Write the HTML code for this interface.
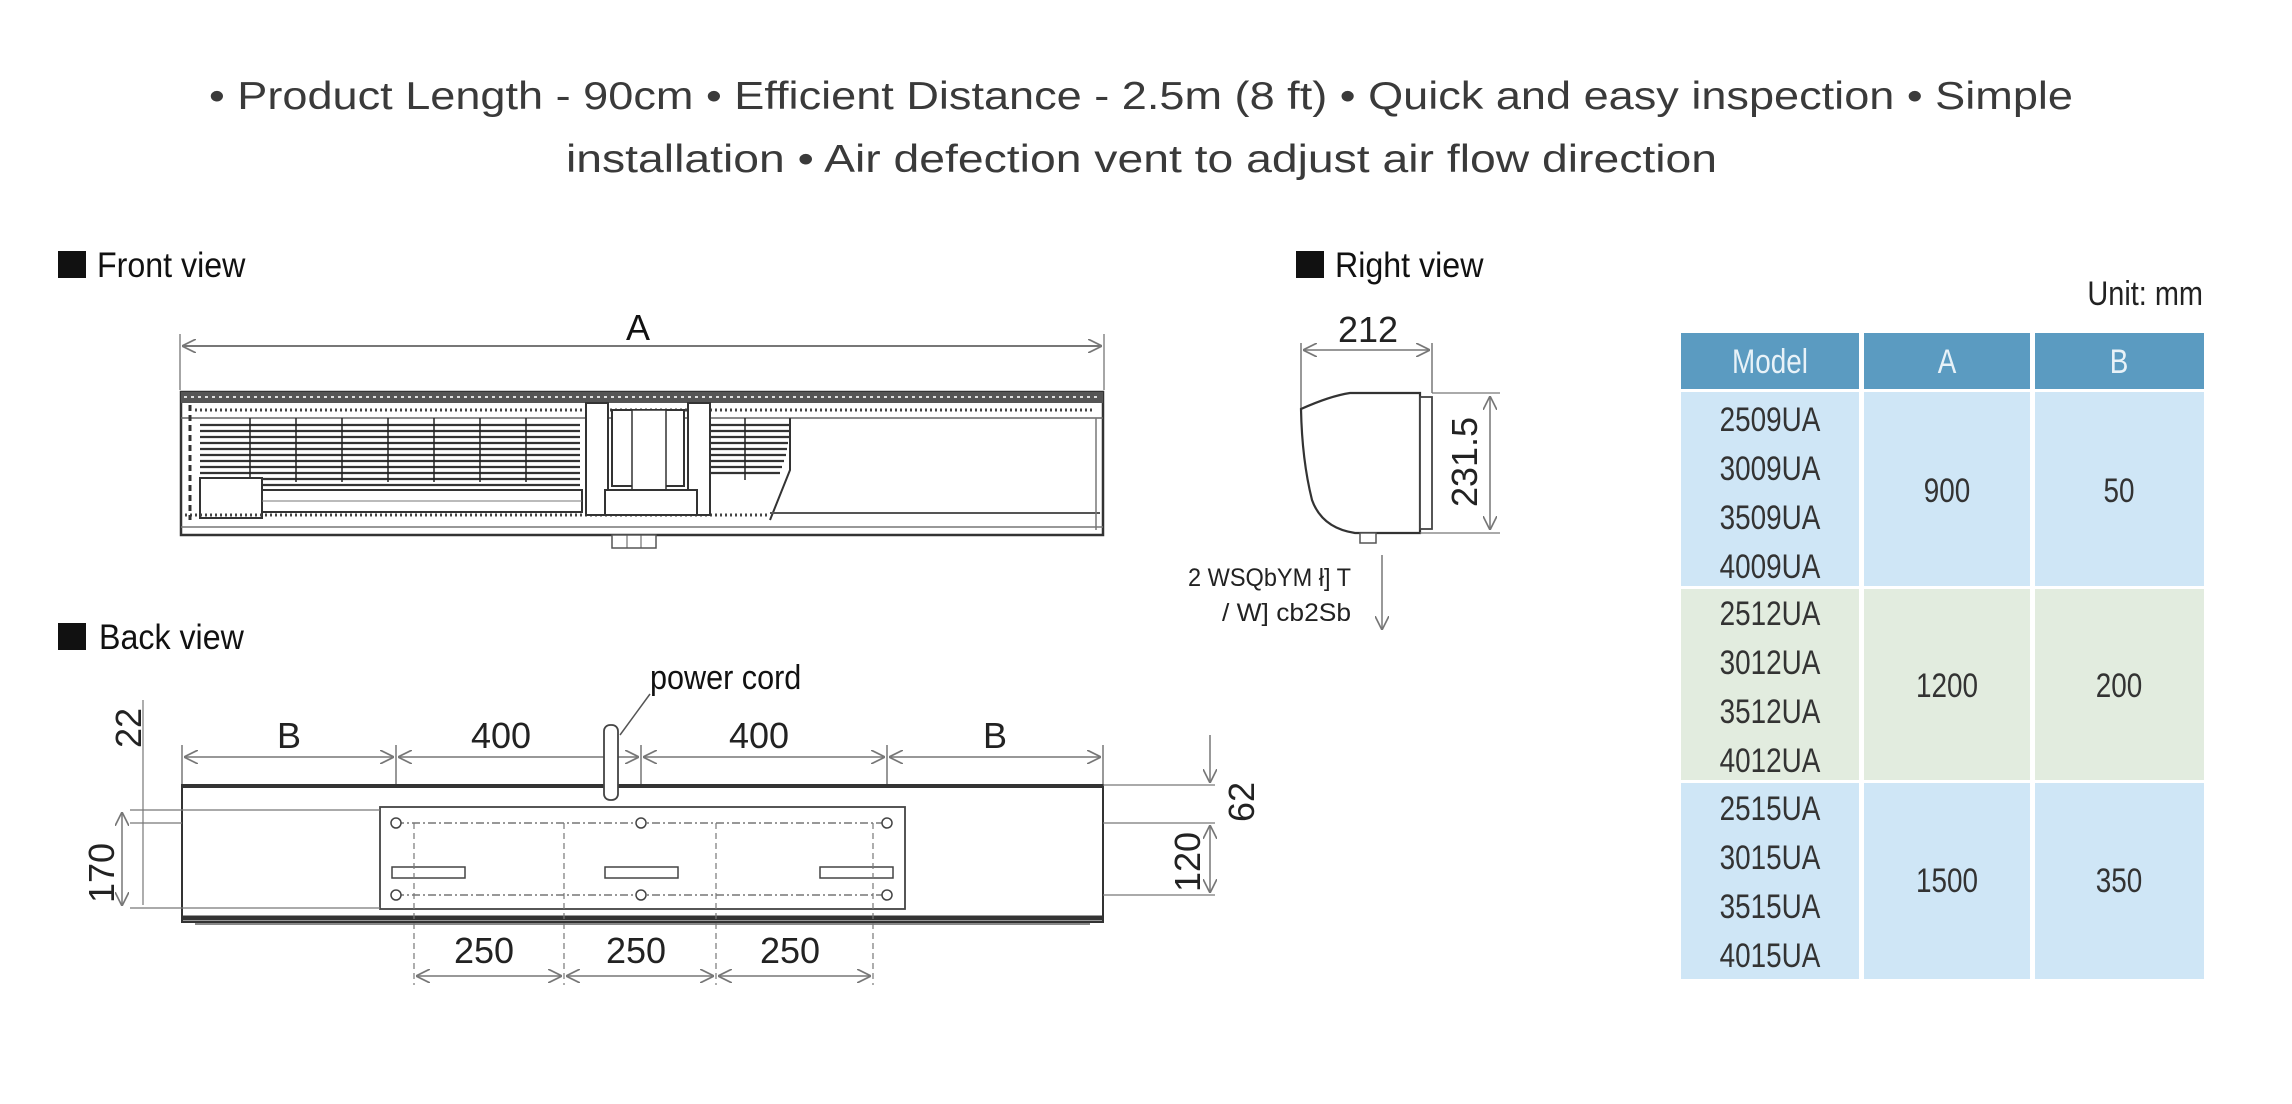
<!DOCTYPE html>
<html><head><meta charset="utf-8">
<style>
html,body{margin:0;padding:0;background:#fff;width:2292px;height:1104px;overflow:hidden}
svg{display:block}
.t{font-family:"Liberation Sans",sans-serif;fill:#111}
.n{font-family:"Liberation Sans",sans-serif;fill:#222}
</style></head><body>
<svg width="2292" height="1104" viewBox="0 0 2292 1104" xmlns="http://www.w3.org/2000/svg">
<defs>
<marker id="ar" viewBox="0 0 10 10" refX="10" refY="5" markerWidth="14" markerHeight="14" orient="auto-start-reverse" markerUnits="userSpaceOnUse"><path d="M0,0 L10,5 L0,10" fill="none" stroke="#777" stroke-width="1.2"/></marker>
</defs>
<!-- title -->
<text x="209" y="109" textLength="1864" lengthAdjust="spacingAndGlyphs" font-family="Liberation Sans,sans-serif" font-size="39" fill="#3a3a3a">• Product Length - 90cm • Efficient Distance - 2.5m (8 ft) • Quick and easy inspection • Simple</text>
<text x="566" y="172" textLength="1151" lengthAdjust="spacingAndGlyphs" font-family="Liberation Sans,sans-serif" font-size="39" fill="#3a3a3a">installation • Air defection vent to adjust air flow direction</text>

<!-- headers -->
<rect x="58" y="251" width="28" height="27" fill="#111"/>
<text x="97" y="277" class="t" font-size="35" transform="translate(97 0) scale(0.92 1) translate(-97 0)">Front view</text>
<rect x="1296" y="251" width="28" height="27" fill="#111"/>
<text x="1335" y="277" class="t" font-size="35" transform="translate(1335 0) scale(0.92 1) translate(-1335 0)">Right view</text>
<rect x="58" y="623" width="28" height="27" fill="#111"/>
<text x="99" y="649" class="t" font-size="35" transform="translate(99 0) scale(0.92 1) translate(-99 0)">Back view</text>

<!-- FRONT VIEW -->
<text x="638" y="340" class="t" font-size="36" text-anchor="middle">A</text>
<line x1="180" y1="334" x2="180" y2="390" stroke="#888" stroke-width="1.5"/>
<line x1="1104" y1="334" x2="1104" y2="390" stroke="#888" stroke-width="1.5"/>
<line x1="182" y1="346" x2="1102" y2="346" stroke="#777" stroke-width="2" marker-start="url(#ar)" marker-end="url(#ar)"/>
<rect x="181" y="392" width="922" height="143" fill="#fff" stroke="#333" stroke-width="2.5"/>
<rect x="181" y="392" width="922" height="11" fill="#555"/>
<line x1="184" y1="397" x2="1100" y2="397" stroke="#ddd" stroke-width="2" stroke-dasharray="3 4"/>
<line x1="195" y1="410" x2="1095" y2="410" stroke="#444" stroke-width="3" stroke-dasharray="2 3"/>
<line x1="181" y1="418" x2="1103" y2="418" stroke="#666" stroke-width="1.5"/>
<g stroke="#333" stroke-width="2.2">
<line x1="200" y1="425" x2="580" y2="425"/><line x1="200" y1="431" x2="580" y2="431"/><line x1="200" y1="437" x2="580" y2="437"/>
<line x1="200" y1="443" x2="580" y2="443"/><line x1="200" y1="449" x2="580" y2="449"/><line x1="200" y1="455" x2="580" y2="455"/>
<line x1="200" y1="461" x2="580" y2="461"/><line x1="200" y1="467" x2="580" y2="467"/><line x1="200" y1="473" x2="580" y2="473"/>
<line x1="262" y1="479" x2="580" y2="479"/><line x1="262" y1="485" x2="580" y2="485"/>
</g>
<g stroke="#222" stroke-width="1.5">
<line x1="250" y1="418" x2="250" y2="482"/><line x1="296" y1="418" x2="296" y2="482"/><line x1="342" y1="418" x2="342" y2="482"/><line x1="388" y1="418" x2="388" y2="482"/><line x1="434" y1="418" x2="434" y2="482"/><line x1="480" y1="418" x2="480" y2="482"/><line x1="526" y1="418" x2="526" y2="482"/>
</g>
<rect x="200" y="478" width="62" height="40" fill="#fff" stroke="#333" stroke-width="2"/>
<rect x="262" y="490" width="320" height="22" fill="#fff" stroke="#333" stroke-width="2"/>
<line x1="262" y1="501" x2="582" y2="501" stroke="#777" stroke-width="1"/>
<line x1="185" y1="515" x2="770" y2="515" stroke="#444" stroke-width="3" stroke-dasharray="2 3"/>
<line x1="190" y1="405" x2="190" y2="520" stroke="#333" stroke-width="3" stroke-dasharray="6 4"/>
<rect x="586" y="403" width="22" height="112" fill="#fff" stroke="#333" stroke-width="2"/>
<rect x="688" y="403" width="22" height="112" fill="#fff" stroke="#333" stroke-width="2"/>
<rect x="612" y="410" width="72" height="76" fill="#fff" stroke="#333" stroke-width="2"/>
<rect x="632" y="410" width="34" height="88" fill="#fff" stroke="#333" stroke-width="1.5"/>
<rect x="605" y="490" width="92" height="25" fill="#fff" stroke="#333" stroke-width="2"/>
<g stroke="#333" stroke-width="2.2">
<line x1="710" y1="425" x2="790" y2="425"/><line x1="710" y1="431" x2="790" y2="431"/><line x1="710" y1="437" x2="789" y2="437"/>
<line x1="710" y1="443" x2="788" y2="443"/><line x1="710" y1="449" x2="787" y2="449"/><line x1="710" y1="455" x2="786" y2="455"/>
<line x1="710" y1="461" x2="784" y2="461"/><line x1="710" y1="467" x2="782" y2="467"/><line x1="710" y1="473" x2="780" y2="473"/>
</g>
<line x1="745" y1="418" x2="745" y2="480" stroke="#222" stroke-width="1.5"/>
<path d="M790,418 L790,470 L770,520" fill="none" stroke="#333" stroke-width="2"/>
<line x1="770" y1="513" x2="1100" y2="513" stroke="#555" stroke-width="2"/>
<line x1="1096" y1="418" x2="1096" y2="530" stroke="#777" stroke-width="1.5"/>
<line x1="181" y1="527" x2="1103" y2="527" stroke="#777" stroke-width="1.5"/>
<rect x="612" y="535" width="44" height="13" fill="#fff" stroke="#555" stroke-width="1.5"/>
<line x1="627" y1="535" x2="627" y2="548" stroke="#555"/><line x1="641" y1="535" x2="641" y2="548" stroke="#555"/>

<!-- RIGHT VIEW -->
<text x="1368" y="342" class="n" font-size="36" text-anchor="middle">212</text>
<line x1="1301" y1="343" x2="1301" y2="410" stroke="#777" stroke-width="1.5"/>
<line x1="1432" y1="343" x2="1432" y2="393" stroke="#777" stroke-width="1.5"/>
<line x1="1303" y1="350" x2="1430" y2="350" stroke="#777" stroke-width="1.5" marker-start="url(#ar)" marker-end="url(#ar)"/>
<path d="M1301,409 Q1330,396 1350,393 L1420,393 L1420,533 L1355,533 Q1322,528 1312,500 Q1302,460 1301,409 Z" fill="#fff" stroke="#333" stroke-width="2.2"/>
<rect x="1420" y="397" width="12" height="132" fill="#fff" stroke="#444" stroke-width="1.8"/>
<rect x="1360" y="533" width="16" height="10" fill="#fff" stroke="#555" stroke-width="1.5"/>
<line x1="1432" y1="393" x2="1500" y2="393" stroke="#777" stroke-width="1.2"/>
<line x1="1420" y1="533" x2="1500" y2="533" stroke="#777" stroke-width="1.2"/>
<line x1="1490" y1="396" x2="1490" y2="530" stroke="#777" stroke-width="1.5" marker-start="url(#ar)" marker-end="url(#ar)"/>
<text class="n" font-size="36" text-anchor="middle" transform="translate(1477 462) rotate(-90)">231.5</text>
<text x="1351" y="586" class="n" font-size="25" text-anchor="end" textLength="163" lengthAdjust="spacingAndGlyphs">2 WSQbYM ł] T</text>
<text x="1351" y="621" class="n" font-size="25" text-anchor="end" textLength="129" lengthAdjust="spacingAndGlyphs">/ W] cb2Sb</text>
<line x1="1382" y1="555" x2="1382" y2="630" stroke="#777" stroke-width="1.5" marker-end="url(#ar)"/>

<!-- BACK VIEW -->
<text x="650" y="689" class="t" font-size="34" transform="translate(650 0) scale(0.9 1) translate(-650 0)">power cord</text>
<line x1="650" y1="694" x2="620" y2="735" stroke="#555" stroke-width="1.5"/>
<text x="289" y="748" class="n" font-size="36" text-anchor="middle">B</text>
<text x="501" y="748" class="n" font-size="36" text-anchor="middle">400</text>
<text x="759" y="748" class="n" font-size="36" text-anchor="middle">400</text>
<text x="995" y="748" class="n" font-size="36" text-anchor="middle">B</text>
<g stroke="#777" stroke-width="1.5">
<line x1="182" y1="745" x2="182" y2="790"/><line x1="396" y1="745" x2="396" y2="900"/><line x1="641" y1="745" x2="641" y2="900"/><line x1="887" y1="745" x2="887" y2="900"/><line x1="1103" y1="745" x2="1103" y2="790"/>
</g>
<g stroke="#777" stroke-width="1.5" marker-start="url(#ar)" marker-end="url(#ar)">
<line x1="184" y1="757" x2="394" y2="757"/><line x1="398" y1="757" x2="639" y2="757"/><line x1="643" y1="757" x2="885" y2="757"/><line x1="889" y1="757" x2="1101" y2="757"/>
</g>
<rect x="182" y="785" width="921" height="137" fill="#fff" stroke="#333" stroke-width="2"/>
<line x1="182" y1="786" x2="1103" y2="786" stroke="#333" stroke-width="4"/>
<line x1="182" y1="918" x2="1103" y2="918" stroke="#333" stroke-width="5"/>
<line x1="195" y1="924" x2="1090" y2="924" stroke="#888" stroke-width="2"/>
<rect x="604" y="725" width="14" height="75" rx="6" fill="#fff" stroke="#444" stroke-width="1.8"/>
<rect x="380" y="807" width="525" height="102" fill="#fff" stroke="#444" stroke-width="1.8"/>
<line x1="396" y1="823" x2="887" y2="823" stroke="#777" stroke-width="1.5" stroke-dasharray="8 3 2 3"/>
<line x1="396" y1="895" x2="887" y2="895" stroke="#777" stroke-width="1.5" stroke-dasharray="8 3 2 3"/>
<line x1="130" y1="810" x2="380" y2="810" stroke="#777" stroke-width="1.2"/>
<line x1="130" y1="908" x2="380" y2="908" stroke="#777" stroke-width="1.2"/>
<line x1="130" y1="823" x2="182" y2="823" stroke="#777" stroke-width="1.2"/>
<line x1="1103" y1="785" x2="1215" y2="785" stroke="#777" stroke-width="1.2"/>
<line x1="1103" y1="823" x2="1215" y2="823" stroke="#777" stroke-width="1.2"/>
<line x1="1103" y1="895" x2="1215" y2="895" stroke="#777" stroke-width="1.2"/>
<g fill="#fff" stroke="#444" stroke-width="1.5">
<circle cx="396" cy="823" r="5"/><circle cx="641" cy="823" r="5"/><circle cx="887" cy="823" r="5"/>
<circle cx="396" cy="895" r="5"/><circle cx="641" cy="895" r="5"/><circle cx="887" cy="895" r="5"/>
<rect x="392" y="867" width="73" height="11"/><rect x="605" y="867" width="73" height="11"/><rect x="820" y="867" width="73" height="11"/>
</g>
<g stroke="#777" stroke-width="1.2" stroke-dasharray="6 4">
<line x1="414" y1="823" x2="414" y2="985"/><line x1="564" y1="823" x2="564" y2="985"/><line x1="716" y1="823" x2="716" y2="985"/><line x1="873" y1="823" x2="873" y2="985"/>
</g>
<text x="484" y="963" class="n" font-size="36" text-anchor="middle">250</text>
<text x="636" y="963" class="n" font-size="36" text-anchor="middle">250</text>
<text x="790" y="963" class="n" font-size="36" text-anchor="middle">250</text>
<g stroke="#777" stroke-width="1.5" marker-start="url(#ar)" marker-end="url(#ar)">
<line x1="416" y1="976" x2="562" y2="976"/><line x1="566" y1="976" x2="714" y2="976"/><line x1="718" y1="976" x2="871" y2="976"/>
</g>
<line x1="143" y1="700" x2="143" y2="905" stroke="#777" stroke-width="1.2"/>
<line x1="122" y1="812" x2="122" y2="906" stroke="#777" stroke-width="1.5" marker-start="url(#ar)" marker-end="url(#ar)"/>
<text class="n" font-size="36" text-anchor="middle" transform="translate(141 728) rotate(-90)">22</text>
<text class="n" font-size="36" text-anchor="middle" transform="translate(114 873) rotate(-90)">170</text>
<line x1="1210" y1="735" x2="1210" y2="783" stroke="#777" stroke-width="1.5" marker-end="url(#ar)"/>
<line x1="1210" y1="825" x2="1210" y2="893" stroke="#777" stroke-width="1.5" marker-start="url(#ar)" marker-end="url(#ar)"/>
<text class="n" font-size="36" text-anchor="middle" transform="translate(1254 802) rotate(-90)">62</text>
<text class="n" font-size="36" text-anchor="middle" transform="translate(1200 862) rotate(-90)">120</text>

<!-- TABLE -->
<text x="2203" y="305" class="n" font-size="34" text-anchor="end" transform="translate(2203 0) scale(0.85 1) translate(-2203 0)">Unit: mm</text>
<rect x="1681" y="333" width="178" height="56" fill="#5b9bc1"/>
<rect x="1864" y="333" width="166" height="56" fill="#5b9bc1"/>
<rect x="2035" y="333" width="169" height="56" fill="#5b9bc1"/>
<rect x="1681" y="392" width="178" height="194" fill="#cfe6f6"/>
<rect x="1864" y="392" width="166" height="194" fill="#cfe6f6"/>
<rect x="2035" y="392" width="169" height="194" fill="#cfe6f6"/>
<rect x="1681" y="589" width="178" height="191" fill="#e2ecdf"/>
<rect x="1864" y="589" width="166" height="191" fill="#e2ecdf"/>
<rect x="2035" y="589" width="169" height="191" fill="#e2ecdf"/>
<rect x="1681" y="783" width="178" height="196" fill="#cfe6f6"/>
<rect x="1864" y="783" width="166" height="196" fill="#cfe6f6"/>
<rect x="2035" y="783" width="169" height="196" fill="#cfe6f6"/>
<g font-family="Liberation Sans,sans-serif" font-size="34" text-anchor="middle">
<g fill="#e8f2f8">
<text transform="translate(1770 373) scale(0.82 1)">Model</text>
<text transform="translate(1947 373) scale(0.82 1)">A</text>
<text transform="translate(2119 373) scale(0.82 1)">B</text>
</g>
<g fill="#333">
<text transform="translate(1770 431) scale(0.82 1)">2509UA</text>
<text transform="translate(1770 480) scale(0.82 1)">3009UA</text>
<text transform="translate(1770 529) scale(0.82 1)">3509UA</text>
<text transform="translate(1770 578) scale(0.82 1)">4009UA</text>
<text transform="translate(1770 625) scale(0.82 1)">2512UA</text>
<text transform="translate(1770 674) scale(0.82 1)">3012UA</text>
<text transform="translate(1770 723) scale(0.82 1)">3512UA</text>
<text transform="translate(1770 772) scale(0.82 1)">4012UA</text>
<text transform="translate(1770 820) scale(0.82 1)">2515UA</text>
<text transform="translate(1770 869) scale(0.82 1)">3015UA</text>
<text transform="translate(1770 918) scale(0.82 1)">3515UA</text>
<text transform="translate(1770 967) scale(0.82 1)">4015UA</text>
<text transform="translate(1947 502) scale(0.82 1)">900</text>
<text transform="translate(2119 502) scale(0.82 1)">50</text>
<text transform="translate(1947 697) scale(0.82 1)">1200</text>
<text transform="translate(2119 697) scale(0.82 1)">200</text>
<text transform="translate(1947 892) scale(0.82 1)">1500</text>
<text transform="translate(2119 892) scale(0.82 1)">350</text>
</g>
</g>
</svg>
</body></html>
